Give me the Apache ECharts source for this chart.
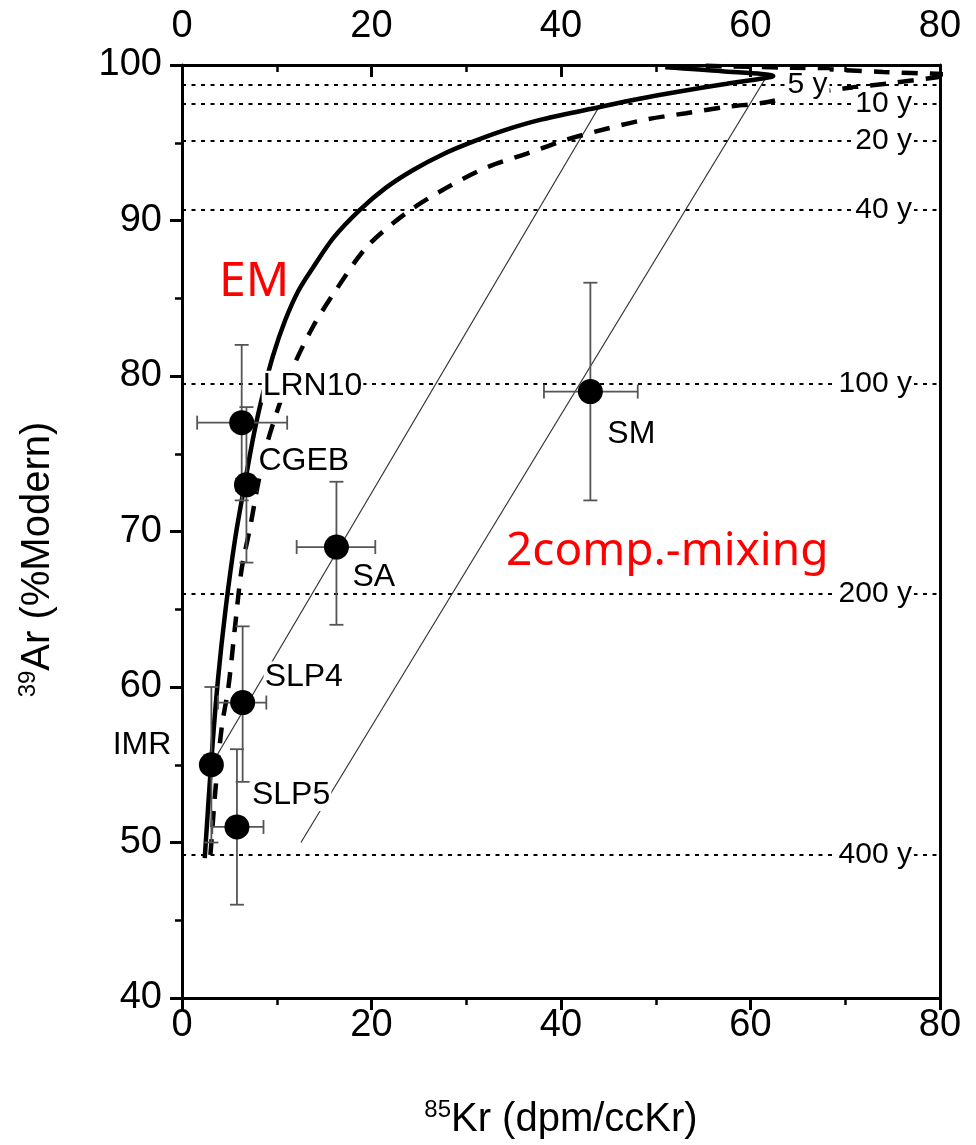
<!DOCTYPE html>
<html><head><meta charset="utf-8">
<script src="https://cdn.jsdelivr.net/npm/echarts@6/dist/echarts.min.js"></script>
<style>html,body{margin:0;padding:0;background:#fff}#c{width:976px;height:1145px}</style>
</head><body><div id="c"></div>
<script>
// ---- data ----
const sampleNames = ['LRN10', 'CGEB', 'SA', 'SM', 'SLP4', 'IMR', 'SLP5'];
const kr85      = [6.3, 6.8, 16.3, 43.1, 6.4, 3.1, 5.8];
const ar39      = [77.0, 73.0, 69.0, 79.0, 59.0, 55.0, 51.0];
const kr85Low   = [1.6, 5.7, 12.1, 38.2, 3.8, 2.6, 3.2];
const kr85High  = [11.1, 7.9, 20.4, 48.1, 8.9, 3.6, 8.6];
const ar39Low   = [72.0, 68.0, 64.0, 72.0, 53.9, 50.0, 46.0];
const ar39High  = [82.0, 78.0, 73.2, 86.0, 63.9, 60.0, 56.0];

// exponential model (solid) curve
const emKr = [2.4, 3.1, 3.8, 4.6, 5.6, 6.6, 7.6, 8.6, 9.6, 10.9, 12.3, 13.85, 16.0, 18.8, 21.5, 24.4, 27.5, 30.7, 34.0, 38.0, 44.1, 48.0, 52.5, 57.5, 62.4, 57.0, 51.0];
const emAr = [49.0, 55.3, 60.5, 65.0, 69.5, 73.0, 76.3, 79.0, 81.3, 83.6, 85.5, 87.0, 88.9, 90.7, 92.1, 93.25, 94.25, 95.07, 95.8, 96.5, 97.3, 97.8, 98.3, 98.8, 99.3, 99.6, 99.85];

// dashed model curve
const dashKr = [3.0, 3.1, 3.5, 4.2, 4.9, 5.6, 6.3, 7.2, 8.1, 9.0, 10.3, 11.9, 13.85, 16.0, 19.5, 23.7, 27.9, 32.3, 36.4, 40.6, 44.8, 49.0, 53.2, 57.4, 61.7, 65.2, 70.0, 75.0, 79.5, 81.0, 74.0, 65.0, 55.0];
const dashAr = [49.2, 50.0, 53.2, 57.45, 60.0, 63.9, 67.6, 70.3, 73.3, 75.7, 78.2, 80.8, 83.2, 85.3, 88.3, 90.5, 92.1, 93.45, 94.3, 95.2, 95.9, 96.5, 96.9, 97.3, 97.6, 98.1, 98.5, 98.85, 99.2, 99.35, 99.55, 99.8, 99.95];

// two-component mixing lines
const mix1Kr = [3.1, 44.1];
const mix1Ar = [55.0, 97.4];
const mix2Kr = [12.55, 61.8];
const mix2Ar = [50.0, 99.36];

// mean residence time reference lines
const ageLabels = ['5 y', '10 y', '20 y', '40 y', '100 y', '200 y', '400 y'];
const ageAr     = [98.7, 97.5, 95.1, 90.7, 79.5, 66.0, 49.2];

// axis ticks
const xMin = 0, xMax = 80, xStep = 20;
const yMin = 40, yMax = 100, yStep = 10;

// ---- layout / style (not data) ----
const ageLabelRightX = [68.4, 77.3, 77.3, 77.3, 77.3, 77.3, 77.3];
const sampleLabelLayout = {
  LRN10: {pos: 'right', off: [7.5, -36]},
  CGEB:  {pos: 'right', off: [-1.5, -24]},
  SA:    {pos: 'right', off: [2.5, 30]},
  SM:    {pos: 'right', off: [3.5, 43]},
  SLP4:  {pos: 'right', off: [8.5, -25]},
  IMR:   {pos: 'left',  off: [-26.5, -20]},
  SLP5:  {pos: 'right', off: [1.5, -32]}
};
const FONT = 'Liberation Sans, Arial, sans-serif';

const chart = echarts.init(document.getElementById('c'), null, {renderer: 'canvas'});

const axisLineStyle = {color: '#000', width: 3};
const baseX = {
  type: 'value', min: xMin, max: xMax, interval: xStep,
  splitLine: {show: false},
  axisLine: {show: true, onZero: false, lineStyle: axisLineStyle},
  minorTick: {show: true, splitNumber: 2, length: 7, lineStyle: {color: '#000', width: 2.5}},
  axisLabel: {fontSize: 38, color: '#000', fontFamily: FONT}
};

const option = {
  backgroundColor: '#fff',
  animation: false,
  grid: {left: 182, right: 36, top: 65, bottom: 147, containLabel: false},
  xAxis: [
    Object.assign({}, baseX, {
      position: 'bottom',
      axisTick: {show: true, inside: false, length: 12, lineStyle: {color: '#000', width: 3}},
      axisLabel: Object.assign({}, baseX.axisLabel, {margin: 9}),
      name: '{s|85}{n|Kr (dpm/ccKr)}',
      nameLocation: 'middle', nameGap: 100,
      nameTextStyle: {color: '#000', fontFamily: FONT,
        rich: {s: {fontSize: 24, verticalAlign: 'top', fontFamily: FONT, color: '#000', lineHeight: 44},
               n: {fontSize: 40, fontFamily: FONT, color: '#000', lineHeight: 44}}}
    }),
    Object.assign({}, baseX, {
      position: 'top',
      axisTick: {show: true, inside: true, length: 12, lineStyle: {color: '#000', width: 3}},
      axisLabel: Object.assign({}, baseX.axisLabel, {margin: 19})
    })
  ],
  yAxis: [
    {
      type: 'value', min: yMin, max: yMax, interval: yStep, position: 'left',
      splitLine: {show: false},
      axisLine: {show: true, onZero: false, lineStyle: axisLineStyle},
      axisTick: {show: true, inside: false, length: 12, lineStyle: {color: '#000', width: 3}},
      minorTick: {show: true, splitNumber: 2, length: 7, lineStyle: {color: '#000', width: 2.5}},
      axisLabel: {fontSize: 38, color: '#000', fontFamily: FONT, margin: 20},
      name: '{s|39}{n|Ar (%Modern)}',
      nameLocation: 'middle', nameGap: 122,
      nameTextStyle: {color: '#000', fontFamily: FONT, padding: [0, 56, 0, 0],
        rich: {s: {fontSize: 24, verticalAlign: 'top', fontFamily: FONT, color: '#000', lineHeight: 44},
               n: {fontSize: 40, fontFamily: FONT, color: '#000', lineHeight: 44}}}
    },
    {
      type: 'value', min: yMin, max: yMax, position: 'right',
      splitLine: {show: false},
      axisLine: {show: true, onZero: false, lineStyle: axisLineStyle},
      axisTick: {show: false}, axisLabel: {show: false}
    }
  ],
  series: [
    // reference age lines (dotted)
    {
      type: 'line', z: 1, data: [], silent: true,
      markLine: {
        z: 1, silent: true, symbol: 'none', animation: false,
        label: {show: false},
        lineStyle: {color: '#000', width: 2.2, type: [4, 5.5], opacity: 1},
        data: ageAr.map(v => ({yAxis: v}))
      }
    },
    // mixing lines
    {
      type: 'line', z: 2, showSymbol: false, silent: true,
      data: mix1Kr.map((x, i) => [x, mix1Ar[i]]),
      lineStyle: {color: '#333', width: 1.2}
    },
    {
      type: 'line', z: 2, showSymbol: false, silent: true,
      data: mix2Kr.map((x, i) => [x, mix2Ar[i]]),
      lineStyle: {color: '#333', width: 1.2}
    },
    // dashed model
    {
      type: 'line', z: 3, showSymbol: false, silent: true, smooth: 0.3,
      data: dashKr.map((x, i) => [x, dashAr[i]]),
      lineStyle: {color: '#000', width: 4.5, type: [16, 12]}
    },
    // EM solid
    {
      type: 'line', z: 3, showSymbol: false, silent: true, smooth: 0.3,
      data: emKr.map((x, i) => [x, emAr[i]]),
      lineStyle: {color: '#000', width: 4.5}
    },
    // age labels on the dotted lines
    {
      type: 'scatter', z: 6, silent: true,
      symbolSize: 1, itemStyle: {color: 'rgba(0,0,0,0)', opacity: 1},
      data: ageLabels.map((t, i) => ({value: [ageLabelRightX[i], ageAr[i]], name: t})),
      label: {show: true, position: 'left', distance: 0, formatter: '{b}',
              fontSize: 30, fontFamily: FONT, color: '#000', opacity: 1,
              backgroundColor: '#fff', padding: [0, 2, 0, 2]}
    },
    // error bars
    {
      type: 'custom', z: 4,
      encode: {x: 0, y: 1},
      data: sampleNames.map((n, i) => [kr85[i], ar39[i], kr85Low[i], kr85High[i], ar39Low[i], ar39High[i]]),
      renderItem: function (params, api) {
        const c = api.coord([api.value(0), api.value(1)]);
        const xl = api.coord([api.value(2), api.value(1)]);
        const xh = api.coord([api.value(3), api.value(1)]);
        const yl = api.coord([api.value(0), api.value(4)]);
        const yh = api.coord([api.value(0), api.value(5)]);
        const cap = 7;
        const st = {stroke: '#555', lineWidth: 1.8, fill: null};
        const L = (x1, y1, x2, y2) => ({type: 'line', shape: {x1, y1, x2, y2}, style: st});
        return {type: 'group', children: [
          L(xl[0], c[1], xh[0], c[1]),
          L(xl[0], c[1] - cap, xl[0], c[1] + cap),
          L(xh[0], c[1] - cap, xh[0], c[1] + cap),
          L(c[0], yl[1], c[0], yh[1]),
          L(c[0] - cap, yl[1], c[0] + cap, yl[1]),
          L(c[0] - cap, yh[1], c[0] + cap, yh[1])
        ]};
      }
    },
    // samples
    {
      type: 'scatter', z: 5,
      symbol: 'circle', symbolSize: 25,
      itemStyle: {color: '#000', opacity: 1},
      data: sampleNames.map((n, i) => ({
        value: [kr85[i], ar39[i]], name: n,
        label: {position: sampleLabelLayout[n].pos, offset: sampleLabelLayout[n].off}
      })),
      label: {show: true, distance: 0, formatter: '{b}', fontSize: 32, fontFamily: FONT, color: '#000', opacity: 1,
              backgroundColor: '#fff', padding: [0, 1, 0, 1]}
    }
  ],
  graphic: [
    {type: 'text', left: 219, top: 258, z: 100,
     style: {text: 'EM', fill: '#ff0000', font: '48px "Noto Sans", sans-serif'}},
    {type: 'text', left: 506, top: 529, z: 100,
     style: {text: '2comp.-mixing', fill: '#ff0000', font: '46px "Noto Sans", sans-serif'}}
  ]
};
chart.setOption(option);
</script>
</body></html>
